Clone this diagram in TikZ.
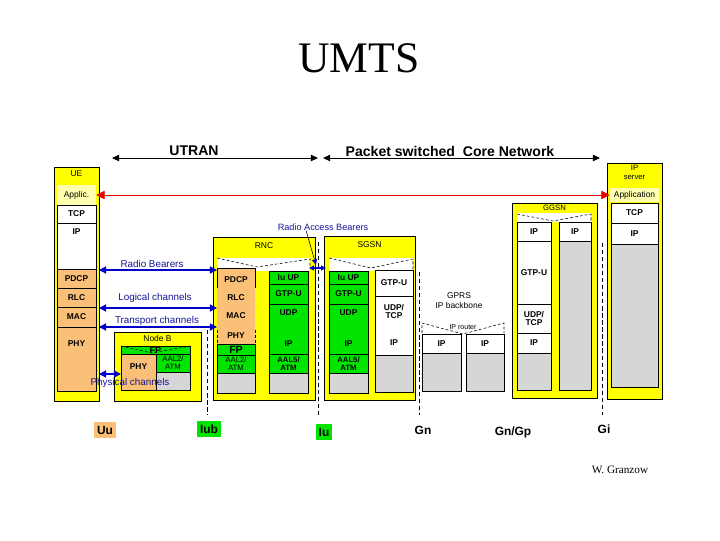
\documentclass[tikz,border=0pt]{standalone}
\usepackage{fontspec}
\setmainfont{Liberation Sans}
\newfontfamily\titlefont{Liberation Serif}
\usetikzlibrary{arrows.meta, positioning, fit}

\definecolor{umtsyellow}{RGB}{255,255,0}
\definecolor{umtspale}{RGB}{255,255,175}
\definecolor{umtsorange}{RGB}{250,192,120}
\definecolor{umtsgreen}{RGB}{0,228,0}
\definecolor{umtsgray}{RGB}{214,214,214}
\definecolor{umtsblue}{RGB}{0,0,200}
\definecolor{umtsnavy}{RGB}{20,20,150}
\definecolor{umtsred}{RGB}{230,0,0}

\begin{document}
\begin{tikzpicture}[
        x=0.025cm, y=-0.025cm,
        nodebox/.style={draw=black, line width=0.6pt, fill=umtsyellow, inner sep=0pt},
        layer/.style={draw=black, line width=0.4pt, inner sep=0pt},
        orangelayer/.style={layer, fill=umtsorange},
        greenlayer/.style={layer, fill=umtsgreen},
        whitelayer/.style={layer, fill=white},
        graylayer/.style={layer, fill=umtsgray},
        palelayer/.style={layer, draw=none, fill=umtspale},
        roof/.style={inner sep=0pt, fill=white},
        boxlabel/.style={font=\fontsize{6}{6.5}\selectfont, inner sep=0pt, align=center},
        laytext/.style={font=\fontsize{6}{6}\selectfont\bfseries, inner sep=0pt, align=center},
        atmtext/.style={font=\fontsize{5.5}{5.5}\selectfont, inner sep=0pt, align=center},
        lab/.style={label={[laytext]center:#1}},
        labn/.style={label={[boxlabel]center:#1}},
        labatm/.style={label={[atmtext]center:#1}},
        labatmb/.style={label={[atmtext, font=\fontsize{5.5}{5.5}\selectfont\bfseries]center:#1}},
        chanlabel/.style={font=\fontsize{7}{8}\selectfont, text=umtsnavy, inner sep=0pt},
        iface/.style={font=\fontsize{8.5}{9}\selectfont\bfseries, inner xsep=2pt, inner ysep=2.5pt},
        netarrow/.style={{Triangle[length=5pt,width=4.5pt]}-{Triangle[length=5pt,width=4.5pt]}, line width=0.7pt},
        apparrow/.style={{Triangle[length=6pt,width=6pt]}-{Triangle[length=6pt,width=6pt]}, line width=0.6pt, umtsred},
        chanarrow/.style={{Triangle[length=5pt,width=5pt]}-{Triangle[length=5pt,width=5pt]}, line width=0.8pt, umtsblue},
        ifline/.style={dash pattern=on 3pt off 2pt, line width=0.6pt},
        mapline/.style={dash pattern=on 2pt off 1.5pt, line width=0.4pt}
    ]
        \useasboundingbox (0,0) rectangle (720,540);
        \node[font=\titlefont\fontsize{31}{34}\selectfont] (title) at (359,58) {UMTS};

        \coordinate (utranW) at (112,158);
        \coordinate (utranE) at (318,158);
        \coordinate (coreW) at (323,158);
        \coordinate (coreE) at (600,158);
        \draw[netarrow] (utranW) -- (utranE);
        \draw[netarrow] (coreW) -- (coreE);
        \node[font=\fontsize{10}{12}\selectfont\bfseries] (utran) at (194,151) {UTRAN};
        \node[font=\fontsize{10}{12}\selectfont\bfseries] (core) at (450,151) {Packet switched\ \ Core Network};

        % UE
        \node[nodebox, fit={(54,167) (99,401)}] (ue) {};
        \node[boxlabel, below=3pt of ue.north] (uelabel) {UE};
        \node[palelayer, labn=Applic., fit={(57,185) (96,205)}] (ueapp) {};
        \node[whitelayer, lab=TCP, fit={(57,205) (96,223)}] (uetcp) {};
        \node[whitelayer, fit={(57,223) (96,269)}] (ueip) {};
        \node[laytext, below=4pt of ueip.north] (ueiplabel) {IP};
        \node[orangelayer, lab=PDCP, fit={(57,269) (96,288)}] (uepdcp) {};
        \node[orangelayer, lab=RLC, fit={(57,288) (96,307)}] (uerlc) {};
        \node[orangelayer, lab=MAC, fit={(57,307) (96,327)}] (uemac) {};
        \node[orangelayer, fit={(57,327) (96,391)}] (uephy) {};
        \node[laytext, below=10pt of uephy.north] (uephylabel) {PHY};

        % Node B
        \node[nodebox, fit={(114,332) (201,401)}] (nodeb) {};
        \node[boxlabel, below=2.5pt of nodeb.north] (nodeblabel) {Node B};
        \node[greenlayer, label={[laytext, font=\fontsize{6.5}{6.5}\selectfont\bfseries]center:FP}, fit={(121,346) (190,354)}] (nbfp) {};
        \draw[mapline] (121,346) -- (152,353) -- (190,346);
        \node[orangelayer, fit={(121,354) (156,390)}] (nbphy) {};
        \node[laytext, below=7pt of nbphy.north] (nbphylabel) {PHY};
        \node[greenlayer, labatm={AAL2/\\ATM}, fit={(156,354) (190,372)}] (nbaal) {};
        \node[graylayer, fit={(156,372) (190,390)}] (nbgray) {};

        % RNC
        \node[nodebox, fit={(213,237) (315,400)}] (rnc) {};
        \node[boxlabel, below=4pt of rnc.north] (rnclabel) {RNC};
        \node[roof, fit={(217,258) (310,271)}] (rncroof) {};
        \draw[mapline] (217,258) -- (257,267) -- (310,259) -- (310,268);
        \node[orangelayer, draw=none, fit={(217,268) (255,344)}] (rncorange) {};
        \draw[line width=0.4pt] (217,288) -- (217,268) -- (255,268) -- (255,288);
        \draw[mapline] (217,330) -- (217,344) (255,330) -- (255,344);
        \node[laytext] (rncpdcp) at (236,280) {PDCP};
        \node[laytext] (rncrlc) at (236,298) {RLC};
        \node[laytext] (rncmac) at (236,316) {MAC};
        \node[laytext] (rncphy) at (236,336) {PHY};
        \node[greenlayer, label={[laytext, font=\fontsize{7.5}{7.5}\selectfont\bfseries]center:FP}, fit={(217,344) (255,355)}] (rncfp) {};
        \node[greenlayer, labatm={AAL2/\\ATM}, fit={(217,355) (255,373)}] (rncaal) {};
        \node[graylayer, fit={(217,373) (255,393)}] (rncgray) {};
        \node[greenlayer, lab=Iu UP, fit={(269,271) (308,284)}] (rnciuup) {};
        \node[greenlayer, lab=GTP-U, fit={(269,284) (308,304)}] (rncgtp) {};
        \node[greenlayer, fit={(269,304) (308,354)}] (rncudp) {};
        \node[laytext, below=4pt of rncudp.north] (rncudplabel) {UDP};
        \node[laytext, above=5.5pt of rncudp.south] (rnciplabel) {IP};
        \node[greenlayer, labatmb={AAL5/\\ATM}, fit={(269,354) (308,373)}] (rncaal5) {};
        \node[graylayer, fit={(269,373) (308,393)}] (rncgray2) {};

        % SGSN
        \node[nodebox, fit={(324,236) (415,400)}] (sgsn) {};
        \node[boxlabel, below=4pt of sgsn.north] (sgsnlabel) {SGSN};
        \node[roof, fit={(329,258) (413,271)}] (sgroof) {};
        \draw[mapline] (329,258) -- (371,268) -- (413,259) -- (413,270);
        \node[greenlayer, lab=Iu UP, fit={(329,271) (368,284)}] (sgiuup) {};
        \node[greenlayer, lab=GTP-U, fit={(329,284) (368,304)}] (sggtp) {};
        \node[greenlayer, fit={(329,304) (368,354)}] (sgudp) {};
        \node[laytext, below=4pt of sgudp.north] (sgudplabel) {UDP};
        \node[laytext, above=5.5pt of sgudp.south] (sgiplabel) {IP};
        \node[greenlayer, labatmb={AAL5/\\ATM}, fit={(329,354) (368,373)}] (sgaal5) {};
        \node[graylayer, fit={(329,373) (368,393)}] (sggray) {};
        \node[whitelayer, lab=GTP-U, fit={(375,270) (413,296)}] (sgrgtp) {};
        \node[whitelayer, fit={(375,296) (413,355)}] (sgrudp) {};
        \node[laytext, below=6pt of sgrudp.north] (sgrudplabel) {UDP/\\TCP};
        \node[laytext, above=7pt of sgrudp.south] (sgriplabel) {IP};
        \node[graylayer, fit={(375,355) (413,392)}] (sgrgray) {};

        % GPRS IP backbone
        \node[font=\fontsize{6}{7}\selectfont, align=center, inner sep=0pt] (gprs) at (459,301) {GPRS\\IP backbone};
        \draw[mapline] (422,333) -- (422,323) -- (463,334) -- (504,323) -- (504,333);
        \node[font=\fontsize{5}{5}\selectfont, fill=white, inner sep=0.3pt] (iprouter) at (463,327) {IP router};
        \node[whitelayer, lab=IP, fit={(422,334) (461,353)}] (r1ip) {};
        \node[graylayer, fit={(422,353) (461,391)}] (r1gray) {};
        \node[whitelayer, lab=IP, fit={(466,334) (504,353)}] (r2ip) {};
        \node[graylayer, fit={(466,353) (504,391)}] (r2gray) {};

        % GGSN
        \node[nodebox, fit={(512,203) (597,398)}] (ggsn) {};
        \node[boxlabel, font=\fontsize{5.5}{6}\selectfont, below=1.5pt of ggsn.north] (ggsnlabel) {GGSN};
        \node[roof, fit={(517,213) (591,222)}] (ggroof) {};
        \draw[mapline] (517,214) -- (553,221) -- (591,214) -- (591,222);
        \node[whitelayer, lab=IP, fit={(517,222) (551,241)}] (gglip) {};
        \node[whitelayer, lab=GTP-U, fit={(517,241) (551,304)}] (gglgtp) {};
        \node[whitelayer, lab={UDP/\\TCP}, fit={(517,304) (551,333)}] (ggludp) {};
        \node[whitelayer, lab=IP, fit={(517,333) (551,353)}] (gglip2) {};
        \node[graylayer, fit={(517,353) (551,390)}] (gglgray) {};
        \node[whitelayer, lab=IP, fit={(559,222) (591,241)}] (ggrip) {};
        \node[graylayer, fit={(559,241) (591,390)}] (ggrgray) {};

        % IP server
        \node[nodebox, fit={(607,163) (662,399)}] (ipsrv) {};
        \node[boxlabel, font=\fontsize{5.5}{6}\selectfont, below=2pt of ipsrv.north] (ipsrvlabel) {IP\\server};
        \node[palelayer, labn=Application, fit={(610,188) (659,202)}] (ipapp) {};
        \node[whitelayer, lab=TCP, fit={(611,203) (658,223)}] (iptcp) {};
        \node[whitelayer, lab=IP, fit={(611,223) (658,244)}] (ipip) {};
        \node[graylayer, fit={(611,244) (658,387)}] (ipgray) {};

        \draw[apparrow] (ueapp.east) -- (ipapp.west);

        % channels
        \coordinate (rbW) at (99,270);
        \coordinate (rbE) at (217,270);
        \coordinate (lcW) at (99,308);
        \coordinate (lcE) at (217,308);
        \coordinate (tcW) at (99,327);
        \coordinate (tcE) at (217,327);
        \coordinate (pcW) at (99,374);
        \coordinate (pcE) at (121,374);
        \draw[chanarrow] (rbW) -- (rbE);
        \draw[chanarrow] (lcW) -- (lcE);
        \draw[chanarrow] (tcW) -- (tcE);
        \draw[chanarrow] (pcW) -- (pcE);
        \node[chanlabel] (rblabel) at (152,264) {Radio Bearers};
        \node[chanlabel] (lclabel) at (155,298) {Logical channels};
        \node[chanlabel] (tclabel) at (157,321) {Transport channels};
        \node[chanlabel] (pclabel) at (130,383) {Physical channels};

        \coordinate (rabW) at (309,268);
        \coordinate (rabE) at (326,268);
        \coordinate (rabtip) at (316,265);
        \draw[{Triangle[length=3.5pt,width=3.5pt]}-{Triangle[length=3.5pt,width=3.5pt]}, line width=0.8pt, umtsblue] (rabW) -- (rabE);
        \node[chanlabel, font=\fontsize{6.5}{7}\selectfont] (rab) at (323,227) {Radio Access Bearers};
        \draw[-{Triangle[length=4pt,width=3.5pt,color=umtsblue]}, line width=0.4pt] ([xshift=-12pt]rab.south) -- (rabtip);

        % interfaces
        \coordinate (iubtop) at (207,330);
        \coordinate (iubbot) at (207,415);
        \coordinate (iutop) at (318,242);
        \coordinate (iubot) at (318,415);
        \coordinate (gntop) at (419,272);
        \coordinate (gnbot) at (419,415);
        \coordinate (gitop) at (602,243);
        \coordinate (gibot) at (602,415);
        \draw[ifline] (iubtop) -- (iubbot);
        \draw[ifline] (iutop) -- (iubot);
        \draw[ifline] (gntop) -- (gnbot);
        \draw[ifline] (gitop) -- (gibot);
        \node[iface, fill=umtsorange] (uu) at (105,430) {Uu};
        \node[iface, fill=umtsgreen] (iub) at (209,429) {Iub};
        \node[iface, fill=umtsgreen] (iu) at (324,432) {Iu};
        \node[iface] (gn) at (423,430) {Gn};
        \node[iface] (gngp) at (513,432) {Gn/Gp};
        \node[iface] (gi) at (604,429) {Gi};

        \node[font=\titlefont\fontsize{8}{9}\selectfont] (author) at (620,470) {W. Granzow};
    \end{tikzpicture}
\end{document}
